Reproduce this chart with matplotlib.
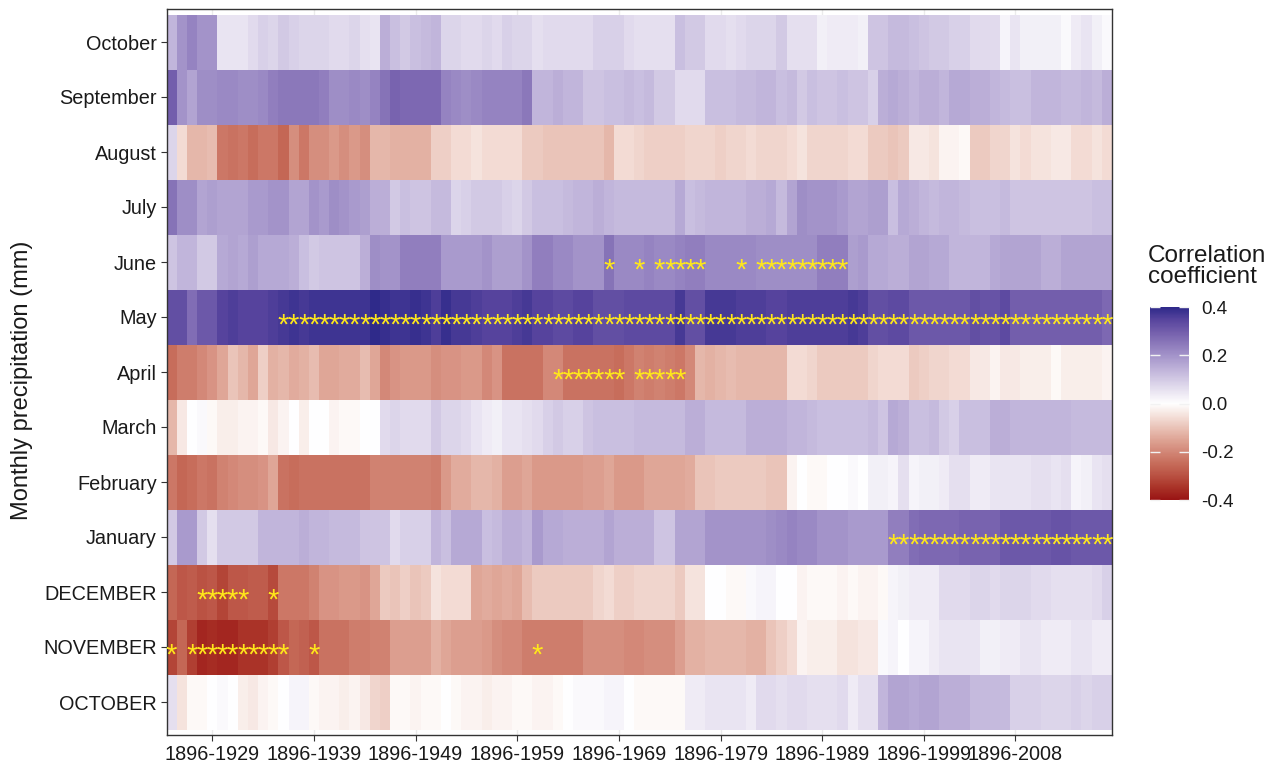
import numpy as np
import matplotlib
matplotlib.use("Agg")
import matplotlib.pyplot as plt
from matplotlib.colors import LinearSegmentedColormap, Normalize

plt.rcParams['font.family'] = ['Liberation Sans', 'DejaVu Sans']

# moving windows: 1896 to each end year
end_years = list(range(1925, 2018))
windows = ['1896-%d' % y for y in end_years]
tick_windows = ['1896-1929', '1896-1939', '1896-1949', '1896-1959', '1896-1969',
                '1896-1979', '1896-1989', '1896-1999', '1896-2008']

# rows from bottom to top
months = ['OCTOBER', 'NOVEMBER', 'DECEMBER', 'January', 'February', 'March',
          'April', 'May', 'June', 'July', 'August', 'September', 'October']

october_prev = [0.06, -0.05, -0.01, -0.01, 0.00, 0.01, 0.00, -0.03, -0.04, -0.02, -0.01, 0.00, 0.02, 0.02, -0.01, -0.02,
                -0.02, -0.03, -0.02, -0.04, -0.07, -0.08, -0.01, -0.01, -0.02, -0.01, -0.01, 0.00, -0.01, -0.02, -0.02, -0.03,
                -0.02, -0.02, -0.01, -0.01, -0.02, -0.02, -0.01, 0.00, 0.01, 0.01, 0.01, 0.02, 0.02, 0.00, -0.01,
                -0.01, -0.01, -0.01, -0.01, 0.04, 0.04, 0.05, 0.05, 0.05, 0.05, 0.04, 0.07, 0.07, 0.06, 0.07,
                0.07, 0.06, 0.06, 0.06, 0.07, 0.04, 0.06, 0.06, 0.14, 0.17, 0.17, 0.16, 0.17, 0.17, 0.15, 0.15,
                0.15, 0.13, 0.13, 0.13, 0.13, 0.09, 0.09, 0.09, 0.08, 0.08, 0.08, 0.09, 0.08, 0.09, 0.09]
november_prev = [-0.32, -0.26, -0.33, -0.37, -0.36, -0.37, -0.37, -0.35, -0.35, -0.35, -0.33, -0.29, -0.26, -0.27, -0.29, -0.24,
                 -0.24, -0.24, -0.22, -0.22, -0.21, -0.21, -0.16, -0.16, -0.16, -0.16, -0.13, -0.15, -0.16, -0.16, -0.16, -0.17,
                 -0.19, -0.20, -0.20, -0.22, -0.22, -0.22, -0.22, -0.22, -0.22, -0.19, -0.19, -0.19, -0.19, -0.20, -0.20,
                 -0.19, -0.19, -0.19, -0.16, -0.13, -0.13, -0.12, -0.12, -0.12, -0.12, -0.13, -0.13, -0.10, -0.08, -0.06,
                 -0.02, -0.03, -0.03, -0.03, -0.05, -0.05, -0.04, -0.04, 0.01, 0.02, 0.00, 0.02, 0.02, 0.04, 0.05, 0.05,
                 0.05, 0.05, 0.03, 0.03, 0.04, 0.04, 0.05, 0.05, 0.04, 0.04, 0.04, 0.05, 0.05, 0.04, 0.04]
december_prev = [-0.26, -0.29, -0.28, -0.30, -0.29, -0.32, -0.29, -0.29, -0.28, -0.28, -0.31, -0.23, -0.23, -0.23, -0.21, -0.18,
                 -0.18, -0.17, -0.17, -0.18, -0.15, -0.09, -0.10, -0.08, -0.10, -0.09, -0.05, -0.06, -0.06, -0.06, -0.15, -0.14,
                 -0.15, -0.14, -0.15, -0.11, -0.09, -0.09, -0.09, -0.09, -0.09, -0.09, -0.07, -0.06, -0.08, -0.08, -0.07,
                 -0.07, -0.07, -0.07, -0.09, -0.05, -0.05, 0.00, 0.00, -0.01, -0.01, 0.01, 0.02, 0.02, 0.00, 0.00,
                 -0.02, -0.01, -0.01, -0.01, -0.02, -0.01, -0.02, -0.02, -0.01, 0.02, 0.03, 0.04, 0.04, 0.04, 0.07, 0.07,
                 0.07, 0.08, 0.08, 0.07, 0.08, 0.08, 0.08, 0.07, 0.07, 0.06, 0.06, 0.06, 0.06, 0.07, 0.09]
january = [0.10, 0.19, 0.19, 0.10, 0.06, 0.10, 0.10, 0.10, 0.10, 0.14, 0.14, 0.14, 0.14, 0.15, 0.14, 0.14,
           0.13, 0.13, 0.13, 0.11, 0.11, 0.11, 0.07, 0.09, 0.09, 0.09, 0.14, 0.12, 0.16, 0.16, 0.16, 0.12,
           0.13, 0.15, 0.15, 0.14, 0.19, 0.16, 0.16, 0.15, 0.15, 0.15, 0.15, 0.17, 0.15, 0.15, 0.15,
           0.15, 0.11, 0.11, 0.17, 0.17, 0.17, 0.20, 0.20, 0.20, 0.20, 0.20, 0.20, 0.21, 0.22, 0.23,
           0.22, 0.22, 0.20, 0.20, 0.20, 0.19, 0.19, 0.19, 0.19, 0.24, 0.24, 0.27, 0.28, 0.28, 0.28, 0.28,
           0.29, 0.29, 0.29, 0.29, 0.31, 0.31, 0.31, 0.31, 0.31, 0.32, 0.32, 0.31, 0.31, 0.31, 0.31]
february = [-0.23, -0.26, -0.25, -0.23, -0.24, -0.21, -0.20, -0.19, -0.19, -0.18, -0.15, -0.24, -0.25, -0.24, -0.24, -0.24,
            -0.24, -0.24, -0.24, -0.24, -0.21, -0.21, -0.21, -0.21, -0.21, -0.21, -0.22, -0.17, -0.14, -0.14, -0.12, -0.12,
            -0.13, -0.16, -0.16, -0.15, -0.17, -0.17, -0.17, -0.17, -0.17, -0.16, -0.16, -0.15, -0.17, -0.17, -0.17,
            -0.15, -0.15, -0.15, -0.15, -0.14, -0.10, -0.10, -0.09, -0.09, -0.09, -0.09, -0.09, -0.10, -0.10, -0.02,
            0.00, -0.01, -0.01, 0.00, 0.00, 0.01, 0.00, 0.03, 0.03, 0.02, 0.06, 0.02, 0.03, 0.03, 0.04, 0.06,
            0.06, 0.04, 0.04, 0.05, 0.05, 0.05, 0.05, 0.06, 0.06, 0.05, 0.06, 0.02, 0.03, 0.05, 0.06]
march = [-0.12, -0.04, 0.00, 0.01, -0.01, -0.03, -0.03, -0.02, -0.02, -0.01, -0.04, -0.02, 0.00, -0.03, 0.00, 0.00,
         -0.02, -0.01, -0.01, 0.00, 0.00, 0.07, 0.08, 0.07, 0.07, 0.07, 0.10, 0.08, 0.08, 0.07, 0.05, 0.04,
         0.03, 0.05, 0.05, 0.06, 0.07, 0.09, 0.10, 0.09, 0.09, 0.11, 0.12, 0.12, 0.12, 0.12, 0.13,
         0.13, 0.13, 0.13, 0.13, 0.15, 0.15, 0.13, 0.13, 0.13, 0.13, 0.15, 0.15, 0.15, 0.15, 0.14,
         0.14, 0.13, 0.12, 0.12, 0.12, 0.12, 0.12, 0.13, 0.11, 0.16, 0.15, 0.12, 0.12, 0.13, 0.10, 0.09,
         0.12, 0.12, 0.12, 0.15, 0.15, 0.14, 0.14, 0.14, 0.14, 0.14, 0.14, 0.13, 0.13, 0.13, 0.13]
april = [-0.25, -0.22, -0.22, -0.20, -0.18, -0.15, -0.10, -0.12, -0.15, -0.08, -0.13, -0.12, -0.14, -0.13, -0.11, -0.15,
         -0.15, -0.14, -0.14, -0.11, -0.15, -0.20, -0.18, -0.17, -0.17, -0.17, -0.19, -0.18, -0.18, -0.17, -0.17, -0.20,
         -0.18, -0.24, -0.24, -0.24, -0.24, -0.20, -0.20, -0.24, -0.24, -0.24, -0.24, -0.24, -0.25, -0.23, -0.21,
         -0.22, -0.21, -0.22, -0.23, -0.20, -0.12, -0.13, -0.12, -0.11, -0.12, -0.12, -0.12, -0.12, -0.12, -0.06,
         -0.06, -0.07, -0.09, -0.09, -0.09, -0.09, -0.09, -0.07, -0.06, -0.06, -0.06, -0.09, -0.08, -0.07, -0.07, -0.06,
         -0.06, -0.04, -0.04, -0.02, -0.04, -0.04, -0.03, -0.03, -0.03, -0.01, -0.03, -0.03, -0.03, -0.03, -0.02]
may = [0.33, 0.33, 0.27, 0.31, 0.31, 0.35, 0.36, 0.35, 0.35, 0.35, 0.36, 0.37, 0.38, 0.37, 0.38, 0.38,
       0.38, 0.38, 0.38, 0.38, 0.40, 0.39, 0.38, 0.38, 0.39, 0.38, 0.36, 0.39, 0.37, 0.37, 0.36, 0.35,
       0.35, 0.35, 0.36, 0.37, 0.35, 0.35, 0.34, 0.34, 0.35, 0.35, 0.33, 0.33, 0.33, 0.34, 0.34,
       0.34, 0.34, 0.34, 0.37, 0.33, 0.33, 0.37, 0.37, 0.37, 0.36, 0.36, 0.36, 0.35, 0.35, 0.36,
       0.36, 0.36, 0.36, 0.36, 0.36, 0.37, 0.36, 0.33, 0.33, 0.34, 0.34, 0.31, 0.31, 0.31, 0.31, 0.31,
       0.31, 0.33, 0.32, 0.32, 0.34, 0.30, 0.30, 0.30, 0.30, 0.30, 0.30, 0.30, 0.30, 0.30, 0.28]
june = [0.11, 0.14, 0.14, 0.10, 0.10, 0.16, 0.17, 0.16, 0.18, 0.16, 0.16, 0.16, 0.15, 0.12, 0.10, 0.11,
        0.11, 0.11, 0.11, 0.15, 0.21, 0.20, 0.20, 0.24, 0.24, 0.24, 0.24, 0.19, 0.19, 0.19, 0.19, 0.20,
        0.18, 0.18, 0.18, 0.20, 0.24, 0.24, 0.22, 0.22, 0.20, 0.20, 0.20, 0.26, 0.22, 0.22, 0.22,
        0.23, 0.22, 0.22, 0.23, 0.24, 0.24, 0.22, 0.22, 0.22, 0.22, 0.22, 0.21, 0.21, 0.21, 0.21,
        0.21, 0.21, 0.24, 0.24, 0.24, 0.18, 0.19, 0.16, 0.16, 0.15, 0.15, 0.17, 0.17, 0.16, 0.16, 0.14,
        0.14, 0.14, 0.14, 0.16, 0.17, 0.17, 0.17, 0.17, 0.15, 0.15, 0.17, 0.17, 0.17, 0.17, 0.17]
july = [0.26, 0.21, 0.21, 0.17, 0.18, 0.17, 0.17, 0.17, 0.19, 0.19, 0.20, 0.20, 0.17, 0.17, 0.20, 0.19,
        0.21, 0.20, 0.19, 0.18, 0.15, 0.15, 0.10, 0.12, 0.11, 0.11, 0.13, 0.13, 0.08, 0.09, 0.10, 0.10,
        0.10, 0.09, 0.08, 0.10, 0.12, 0.12, 0.12, 0.13, 0.14, 0.14, 0.15, 0.14, 0.13, 0.13, 0.13,
        0.13, 0.13, 0.13, 0.16, 0.12, 0.13, 0.14, 0.14, 0.14, 0.14, 0.15, 0.15, 0.16, 0.13, 0.17,
        0.21, 0.20, 0.20, 0.20, 0.19, 0.17, 0.17, 0.18, 0.18, 0.12, 0.16, 0.15, 0.14, 0.13, 0.14, 0.14,
        0.13, 0.12, 0.12, 0.12, 0.13, 0.11, 0.11, 0.11, 0.11, 0.11, 0.11, 0.11, 0.11, 0.12, 0.12]
august = [0.08, -0.06, -0.12, -0.12, -0.11, -0.23, -0.24, -0.23, -0.25, -0.23, -0.23, -0.26, -0.19, -0.23, -0.19, -0.19,
          -0.17, -0.19, -0.17, -0.19, -0.12, -0.12, -0.13, -0.13, -0.13, -0.13, -0.08, -0.08, -0.06, -0.06, -0.05, -0.06,
          -0.06, -0.06, -0.06, -0.09, -0.09, -0.10, -0.10, -0.10, -0.10, -0.10, -0.10, -0.12, -0.06, -0.06, -0.07,
          -0.08, -0.08, -0.08, -0.08, -0.07, -0.07, -0.07, -0.08, -0.07, -0.07, -0.06, -0.07, -0.07, -0.07, -0.06,
          -0.05, -0.07, -0.07, -0.07, -0.07, -0.06, -0.06, -0.09, -0.09, -0.10, -0.09, -0.04, -0.04, -0.05, -0.02, -0.02,
          -0.01, -0.09, -0.09, -0.07, -0.07, -0.05, -0.06, -0.05, -0.05, -0.04, -0.04, -0.06, -0.06, -0.05, -0.06]
september = [0.30, 0.20, 0.17, 0.21, 0.21, 0.22, 0.22, 0.21, 0.21, 0.22, 0.24, 0.25, 0.25, 0.25, 0.25, 0.24,
             0.21, 0.21, 0.22, 0.21, 0.23, 0.26, 0.29, 0.28, 0.28, 0.28, 0.28, 0.23, 0.22, 0.21, 0.22, 0.23,
             0.23, 0.23, 0.23, 0.25, 0.14, 0.14, 0.15, 0.14, 0.14, 0.11, 0.11, 0.12, 0.12, 0.13, 0.12,
             0.13, 0.10, 0.10, 0.07, 0.07, 0.07, 0.12, 0.12, 0.12, 0.13, 0.13, 0.14, 0.14, 0.12, 0.13,
             0.10, 0.12, 0.11, 0.11, 0.12, 0.11, 0.11, 0.09, 0.15, 0.16, 0.15, 0.14, 0.15, 0.15, 0.14, 0.16,
             0.16, 0.15, 0.15, 0.14, 0.13, 0.12, 0.12, 0.14, 0.14, 0.14, 0.13, 0.13, 0.14, 0.13, 0.15]
october = [0.14, 0.20, 0.23, 0.20, 0.20, 0.05, 0.05, 0.05, 0.07, 0.09, 0.08, 0.10, 0.09, 0.08, 0.08, 0.08,
           0.07, 0.07, 0.08, 0.06, 0.05, 0.15, 0.12, 0.10, 0.12, 0.13, 0.14, 0.08, 0.08, 0.07, 0.07, 0.08,
           0.07, 0.09, 0.08, 0.08, 0.06, 0.07, 0.07, 0.07, 0.07, 0.07, 0.09, 0.09, 0.09, 0.07, 0.06,
           0.06, 0.06, 0.06, 0.12, 0.10, 0.10, 0.07, 0.07, 0.06, 0.07, 0.08, 0.08, 0.08, 0.10, 0.06,
           0.06, 0.06, 0.03, 0.04, 0.04, 0.04, 0.03, 0.11, 0.11, 0.13, 0.13, 0.12, 0.11, 0.10, 0.10, 0.09,
           0.09, 0.07, 0.07, 0.07, 0.02, 0.05, 0.03, 0.03, 0.03, 0.03, 0.01, 0.04, 0.05, 0.03, 0.01]

# significant windows (column index) per month
sig_november_prev = [0, 2, 3, 4, 5, 6, 7, 8, 9, 10, 11, 14, 36]
sig_december_prev = [3, 4, 5, 6, 7, 10]
sig_january = list(range(71, 93))
sig_april = [38, 39, 40, 41, 42, 43, 44, 46, 47, 48, 49, 50]
sig_may = list(range(11, 93))
sig_june = [43, 46, 48, 49, 50, 51, 52, 56, 58, 59, 60, 61, 62, 63, 64, 65, 66]

rows = [october_prev, november_prev, december_prev, january, february, march,
        april, may, june, july, august, september, october]
sig = {1: sig_november_prev, 2: sig_december_prev, 3: sig_january,
       6: sig_april, 7: sig_may, 8: sig_june}
z = np.array(rows)

W, H = 1278, 766
fig = plt.figure(figsize=(W / 100, H / 100), dpi=100)
ax = fig.add_axes([166.5 / W, 1 - 735 / H, (1112 - 166.5) / W, 726 / H])

# diverging red - white - blue/purple scale, limits -0.4..0.4
cmap = LinearSegmentedColormap.from_list('corr', [
    (0.0, '#9A1515'), (0.0625, '#AA3328'), (0.125, '#BA5243'), (0.1875, '#C76D5B'),
    (0.25, '#D38878'), (0.3125, '#DFA596'), (0.375, '#EAC3B8'), (0.4375, '#F5E2DC'),
    (0.5, '#FFFFFF'),
    (0.5625, '#EAE5F2'), (0.625, '#D3CAE5'), (0.6875, '#BCAFD8'), (0.75, '#A494CA'),
    (0.8125, '#8C79BB'), (0.875, '#735EAC'), (0.9375, '#58459E'), (1.0, '#2F2A8A')])
norm = Normalize(-0.4, 0.4)

ax.pcolormesh(np.arange(len(windows) + 1), np.arange(len(months) + 1), z,
              cmap=cmap, norm=norm, shading='flat', zorder=2)
ax.set_xlim(0, len(windows))
ax.set_ylim(-0.1, len(months) + 0.1)

# significance stars, glyph centred on the cell
star_size = 21
for r, cols in sig.items():
    for c in cols:
        ax.annotate('*', xy=(c + 0.5, r + 0.5), xytext=(0, -0.575 * star_size),
                    textcoords='offset points', ha='center', va='baseline',
                    color='#FFE81A', fontsize=star_size, zorder=3)

tick_pos = [windows.index(t) + 0.5 for t in tick_windows]
ax.set_xticks(tick_pos)
ax.set_xticklabels(tick_windows)
ax.set_yticks(np.arange(len(months)) + 0.5)
ax.set_yticklabels(months)
ax.tick_params(length=4, width=0.8, color='#333333', labelsize=14.3, labelcolor='#1a1a1a', pad=3)
ax.grid(True, color='#EBEBEB', lw=1)
ax.set_axisbelow(True)
for s in ax.spines.values():
    s.set_color('#333333')
    s.set_linewidth(1.0)

fig.text(22 / W, 1 - 380 / H, 'Monthly precipitation (mm)', rotation=90,
         ha='center', va='center', fontsize=17, color='#1a1a1a')

# colour bar
cax = fig.add_axes([1150 / W, 1 - 500 / H, 39 / W, 193 / H])
grad = np.linspace(-0.4, 0.4, 300).reshape(-1, 1)
cax.imshow(grad, aspect='auto', cmap=cmap, norm=norm, origin='lower', extent=[0, 1, -0.4, 0.4])
cax.set_xticks([])
cax.yaxis.tick_right()
cax.set_yticks([-0.4, -0.2, 0.0, 0.2, 0.4])
cax.set_yticklabels(['-0.4', '-0.2', '0.0', '0.2', '0.4'])
cax.tick_params(axis='y', left=True, right=True, direction='in', length=7, width=1,
                color='#F2F2F2', labelsize=13.5, labelcolor='#1a1a1a', pad=9)
for s in cax.spines.values():
    s.set_visible(False)

fig.text(1148 / W, 1 - 245 / H, 'Correlation\ncoefficient', ha='left', va='top',
         fontsize=17.5, linespacing=0.95, color='#1a1a1a')

fig.savefig('out.png', dpi=100)
